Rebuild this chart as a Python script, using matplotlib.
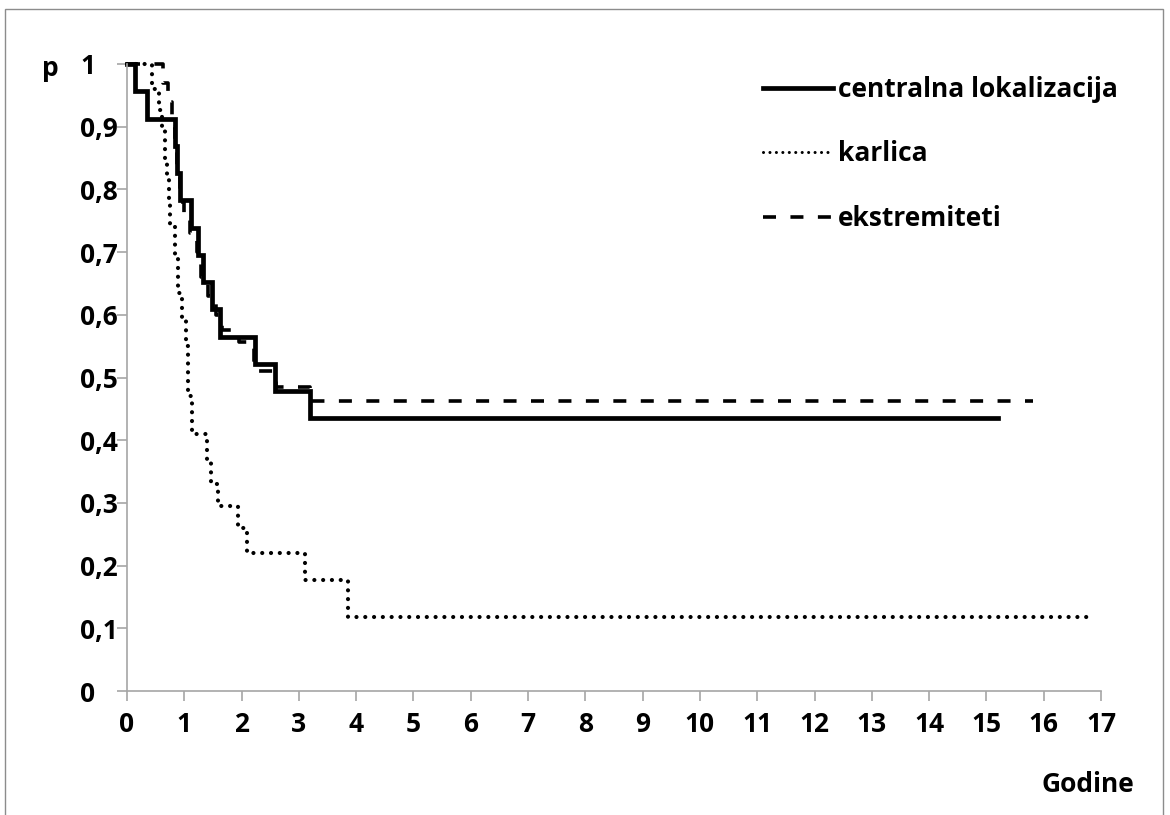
import matplotlib
matplotlib.use("Agg")
import matplotlib.pyplot as plt
from matplotlib.lines import Line2D
from matplotlib.patches import Rectangle

# --- data (Kaplan-Meier step curves: time in years, survival probability) ---
central_t = [0, 0.14, 0.35, 0.84, 0.88, 0.93, 1.12, 1.24, 1.32, 1.48, 1.63, 2.24, 2.58, 3.20, 15.20]
central_p = [1.0, 0.957, 0.913, 0.870, 0.826, 0.783, 0.739, 0.696, 0.652, 0.609, 0.565, 0.522, 0.478, 0.435, 0.435]

karlica_t = [0, 0.44, 0.56, 0.61, 0.66, 0.70, 0.73, 0.75, 0.84, 0.89, 0.96, 1.03, 1.07, 1.14,
             1.40, 1.47, 1.59, 1.94, 2.10, 3.11, 3.86, 16.77]
karlica_p = [1.0, 0.96, 0.927, 0.90, 0.85, 0.82, 0.78, 0.74, 0.69, 0.635, 0.59, 0.55, 0.47, 0.41,
             0.37, 0.33, 0.295, 0.26, 0.22, 0.177, 0.118, 0.118]

ekstrem_t = [0, 0.63, 0.72, 0.78, 0.84, 0.88, 0.93, 1.00, 1.10, 1.22, 1.30, 1.42, 1.55, 1.66,
             1.95, 2.22, 2.60, 3.20, 15.81]
ekstrem_p = [1.0, 0.97, 0.94, 0.90, 0.86, 0.82, 0.78, 0.76, 0.73, 0.70, 0.66, 0.63, 0.60, 0.575,
             0.557, 0.51, 0.485, 0.462, 0.462]

labels = ["centralna lokalizacija", "karlica", "ekstremiteti"]
x_ticks = list(range(0, 18))
y_ticks = [i / 10 for i in range(0, 11)]
y_ticklabels = ["0", "0,1", "0,2", "0,3", "0,4", "0,5", "0,6", "0,7", "0,8", "0,9", "1"]

FONT = "Open Sans"
FS = 19
plt.rcParams["font.family"] = [FONT, "DejaVu Sans"]
plt.rcParams["font.weight"] = "bold"

W, H = 1170, 815
fig = plt.figure(figsize=(W / 100, H / 100), dpi=100)
ax = fig.add_axes([127 / W, 1 - 691 / H, (1101 - 127) / W, (691 - 64) / H])

# outer chart-area border
fig.patches.append(Rectangle((5 / W, -0.02), (1163 - 5) / W, 1.02 - 9 / H,
                             transform=fig.transFigure, fill=False,
                             edgecolor="#8c8c8c", linewidth=1.0))

DOT = (0, (0.01, 2.1))
DASH = (0, (3.6, 4.0))
ax.step(central_t, central_p, where="post", color="black", linewidth=3.4,
        solid_joinstyle="miter", clip_on=False)
ax.step(karlica_t, karlica_p, where="post", color="black", linewidth=3.0,
        linestyle=DOT, dash_capstyle="round", clip_on=False)
ax.step(ekstrem_t, ekstrem_p, where="post", color="black", linewidth=2.6,
        linestyle=DASH, clip_on=False)

ax.set_xlim(0, 17)
ax.set_ylim(0, 1)
ax.set_xticks(x_ticks)
ax.set_xticklabels([str(v) for v in x_ticks])
ax.set_yticks(y_ticks)
ax.set_yticklabels(y_ticklabels)

for s in ["top", "right"]:
    ax.spines[s].set_visible(False)
for s in ["left", "bottom"]:
    ax.spines[s].set_color("#a6a6a6")
    ax.spines[s].set_linewidth(1.2)

ax.tick_params(axis="both", colors="#a6a6a6", width=1.2, length=7.2, direction="out",
               labelcolor="black", labelsize=FS)
ax.tick_params(axis="y", pad=(127 - 80) * 0.72 - 7.2)
ax.tick_params(axis="x", pad=7)
for lbl in ax.get_xticklabels():
    lbl.set_fontweight("bold")
for lbl in ax.get_yticklabels():
    lbl.set_fontweight("bold")
    lbl.set_horizontalalignment("left")

# axis titles
fig.text(50 / W, 1 - 68 / H, "p", fontsize=FS, fontweight="bold", ha="center", va="center")
fig.text(1088 / W, 1 - 785 / H, "Godine", fontsize=FS, fontweight="bold", ha="center", va="center")

handles = [
    Line2D([], [], color="black", linewidth=3.4),
    Line2D([], [], color="black", linewidth=2.2, linestyle=DOT, dash_capstyle="round"),
    Line2D([], [], color="black", linewidth=2.6, linestyle=DASH),
]
leg = ax.legend(handles, labels, loc="upper left", bbox_to_anchor=(763 / W, 1 - 76 / H),
                bbox_transform=fig.transFigure, frameon=False, fontsize=FS,
                handlelength=2.65, handletextpad=0.2, labelspacing=1.42, borderaxespad=0,
                borderpad=0)
for t in leg.get_texts():
    t.set_fontweight("bold")

fig.savefig("out.png", dpi=100)
